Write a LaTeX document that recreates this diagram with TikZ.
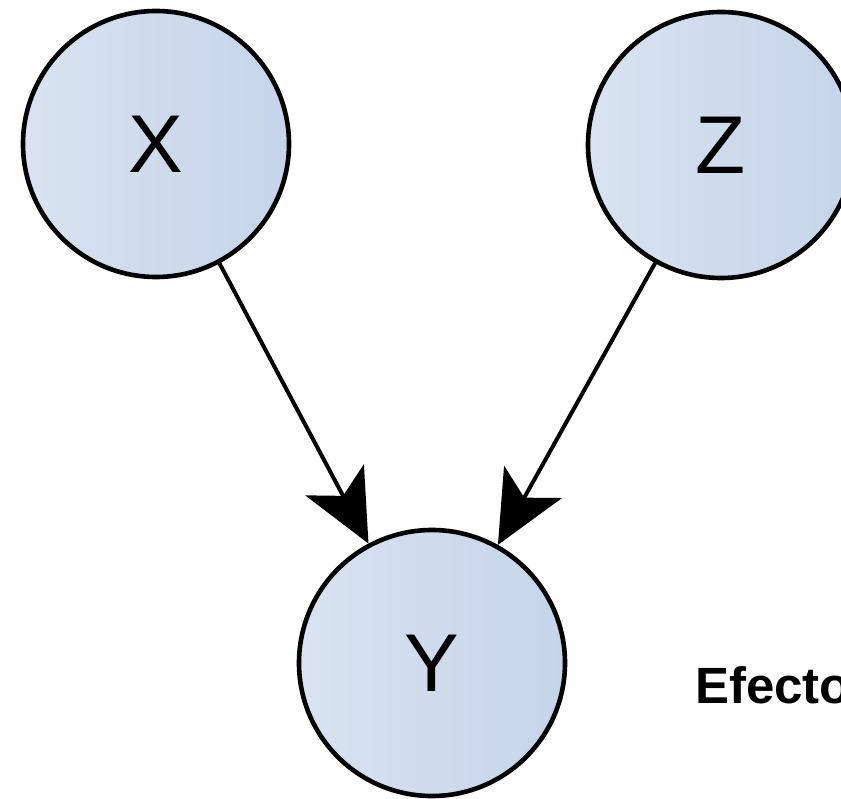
\documentclass[tikz,border=0pt]{standalone}
\usepackage{fontspec}
\setmainfont{Liberation Sans}
\usetikzlibrary{arrows.meta}
\definecolor{fillL}{HTML}{D9E3F1}
\definecolor{fillR}{HTML}{C5D4E9}
\tikzset{
  var/.style={circle, draw=black, line width=4.6pt, minimum size=266pt, inner sep=0pt,
    left color=fillL, right color=fillR,
    font=\fontsize{82}{82}\selectfont},
  causal/.style={line width=4pt, -{Stealth[length=72pt, width=66pt, inset=18pt]}},
  lbl/.style={font=\bfseries\fontsize{51}{51}\selectfont, anchor=base west, inner sep=0pt}
}
\begin{document}
\begin{tikzpicture}[x=1pt, y=-1pt]
\useasboundingbox (0,0) rectangle (841,799);
\fill[white] (0,0) rectangle (841,799);
\clip (0,0) rectangle (841,799);
\node[var] (X) at (156,144) {X};
\node[var] (Z) at (721,145) {Z};
\node[var] (Y) at (432,663) {Y};
\draw[causal] (X) -- (Y);
\draw[causal] (Z) -- (Y);
\node[lbl] (E) at (695,703) {Efecto};
\end{tikzpicture}
\end{document}
